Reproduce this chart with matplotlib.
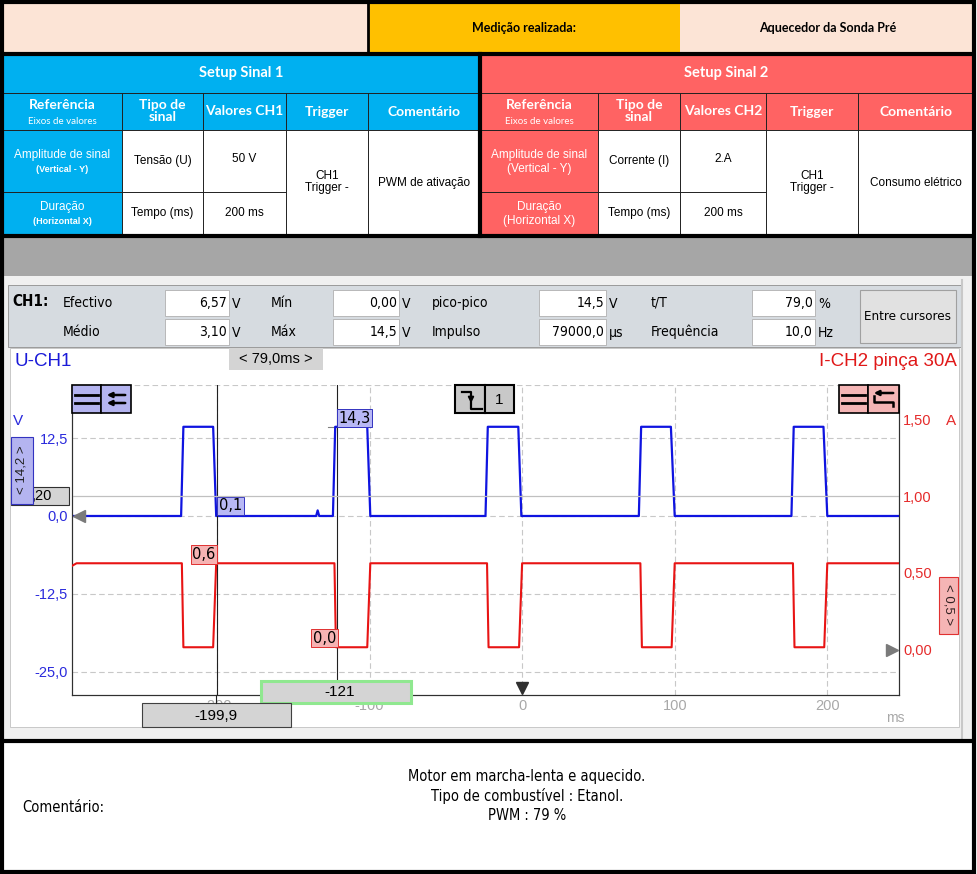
import numpy as np
import matplotlib.pyplot as plt
from matplotlib.patches import Rectangle
from matplotlib import font_manager

# ---- dados lidos no ecra do osciloscopio ----
# canal 1 : tensao (V)
t_ch1 = [-295, -223.5, -222, -202.5, -200.5, -135, -134, -133, -124, -122.5, -101.5, -99.5,
         -24, -22.5, -2.5, -0.5, 76.5, 78, 97.5, 100, 176.5, 178, 197.5, 200, 247]
u_ch1 = [0, 0, 14.3, 14.3, 0, 0, 0.9, 0, 0, 14.3, 14.3, 0,
         0, 14.3, 14.3, 0, 0, 14.3, 14.3, 0, 0, 14.3, 14.3, 0, 0]
# canal 2 : corrente (A)
t_ch2 = [-295, -292, -223, -222, -202.5, -200.5, -123, -122, -101.5, -99.5,
         -23, -22, -2, 0, 77.5, 78.5, 98, 100, 177.5, 178.5, 198, 200, 247]
i_ch2 = [0.545, 0.562, 0.562, 0.015, 0.015, 0.562, 0.562, 0.015, 0.015, 0.562,
         0.562, 0.015, 0.015, 0.562, 0.562, 0.015, 0.015, 0.562, 0.562, 0.015, 0.015, 0.562, 0.562]

cursores = [-199.9, -121]
leit_ch1 = ['0,1', '14,3']
leit_ch2 = ['0,6', '0,0']

xticks = [-200, -100, 0, 100, 200]
yticks_ch1 = [12.5, 0, -12.5, -25]
ylab_ch1 = ['12,5', '0,0', '-12,5', '-25,0']
yticks_ch2 = [1.5, 1.0, 0.5, 0.0]
ylab_ch2 = ['1,50', '1,00', '0,50', '0,00']

# medicoes CH1
med_nomes = [['Efectivo', 'Médio'], ['Mín', 'Máx'], ['pico-pico', 'Impulso'], ['t/T', 'Frequência']]
med_vals = [['6,57', '3,10'], ['0,00', '14,5'], ['14,5', '79000,0'], ['79,0', '10,0']]
med_unid = [['V', 'V'], ['V', 'V'], ['V', 'µs'], ['%', 'Hz']]

# tabelas de setup
sinal1 = ['Tensão (U)', '50 V', 'Tempo (ms)', '200 ms', 'CH1\nTrigger -', 'PWM de ativação']
sinal2 = ['Corrente (I)', '2.A', 'Tempo (ms)', '200 ms', 'CH1\nTrigger -', 'Consumo elétrico']
comentario = ['Motor em marcha-lenta e aquecido.', 'Tipo de combustível : Etanol.', 'PWM : 79 %']

AZUL = '#00B0F0'
VERM = '#FF6363'
PESS = '#FCE4D6'
OURO = '#FFC000'

# fonte estreita, se houver uma instalada
NARROW, STRETCH = 'Roboto', 'normal'
for f in font_manager.fontManager.ttflist:
    if 'Narrow' in f.name or 'Condensed' in f.name:
        NARROW = f.name
        break
    if f.name in ('DejaVu Sans', 'Liberation Sans') and f.stretch == 'condensed':
        NARROW, STRETCH = f.name, 'condensed'
        break
ARIAL = 'Liberation Sans'
CALIB = 'Lato'

W, H = 977, 874
fig = plt.figure(figsize=(9.77, 8.74), dpi=100)


def camada(z):
    a = fig.add_axes([0, 0, 1, 1], zorder=z)
    a.set_xlim(0, W)
    a.set_ylim(H, 0)
    a.axis('off')
    a.patch.set_alpha(0)
    return a


def caixa(a, x0, y0, x1, y1, fc, ec='none', lw=0, z=1):
    a.add_patch(Rectangle((x0, y0), x1 - x0, y1 - y0, facecolor=fc, edgecolor=ec, lw=lw, zorder=z))


def txt(a, x, y, s, size=9, ha='center', color='black', fam=ARIAL, weight='normal', z=3, **kw):
    a.text(x, y, s, fontsize=size, ha=ha, va='center', color=color, family=fam,
           weight=weight, zorder=z, **kw)


def narrow(a, x, y, s, size=10, ha='left', **kw):
    txt(a, x, y, s, size=size, ha=ha, fam=NARROW, fontstretch=STRETCH, **kw)


bg = camada(0)
fg = camada(10)

# ---- cabecalho ----
caixa(bg, 0, 0, W, H, 'white')
caixa(bg, 3, 3, 368, 54, PESS)
caixa(bg, 368, 3, 680, 54, OURO)
caixa(bg, 680, 3, 973, 54, PESS)
txt(bg, 524, 28, 'Medição realizada:', size=9, fam=CALIB, weight='bold')
txt(bg, 828, 28, 'Aquecedor da Sonda Pré', size=9, fam=CALIB, weight='bold')
bg.plot([368, 368], [3, 54], color='black', lw=2, zorder=4)

cols1 = [3, 122, 203, 286, 368, 480]
cols2 = [480, 598, 680, 766, 858, 973]
for cols, cor, tit, sin, ch in [(cols1, AZUL, 'Setup Sinal 1', sinal1, 'CH1'),
                                (cols2, VERM, 'Setup Sinal 2', sinal2, 'CH2')]:
    x0, x1 = cols[0], cols[-1]
    caixa(bg, x0, 54, x1, 130, cor)
    caixa(bg, x0, 130, cols[1], 236, cor)
    caixa(bg, cols[1], 130, x1, 236, 'white')
    txt(bg, (x0 + x1) / 2, 73, tit, size=10.5, color='white', fam=CALIB, weight='bold')
    cx = [(cols[i] + cols[i + 1]) / 2 for i in range(5)]
    txt(bg, cx[0], 105, 'Referência', size=10, color='white', fam=CALIB, weight='bold')
    txt(bg, cx[0], 121, 'Eixos de valores', size=7, color='white', fam=CALIB)
    txt(bg, cx[1], 111, 'Tipo de\nsinal', size=10, color='white', fam=CALIB, weight='bold',
        linespacing=1.0)
    txt(bg, cx[2], 111, 'Valores ' + ch, size=10, color='white', fam=CALIB, weight='bold')
    txt(bg, cx[3], 112, 'Trigger', size=10, color='white', fam=CALIB, weight='bold')
    txt(bg, cx[4], 112, 'Comentário', size=10, color='white', fam=CALIB, weight='bold')
    peq = 6.5 if ch == 'CH1' else 8.5
    txt(bg, cx[0], 155, 'Amplitude de sinal', size=8.5, color='white')
    txt(bg, cx[0], 169, '(Vertical - Y)', size=peq, color='white', weight='bold' if ch == 'CH1' else 'normal')
    txt(bg, cx[0], 207, 'Duração', size=8.5, color='white')
    txt(bg, cx[0], 221, '(Horizontal X)', size=peq, color='white', weight='bold' if ch == 'CH1' else 'normal')
    txt(bg, cx[1], 161, sin[0], size=8.5)
    txt(bg, cx[2], 159, sin[1], size=8.5)
    txt(bg, cx[1], 213, sin[2], size=8.5)
    txt(bg, cx[2], 213, sin[3], size=8.5)
    txt(bg, cx[3], 182, sin[4], size=8.5, linespacing=1.1)
    txt(bg, cx[4], 183, sin[5], size=8.5)
    # linhas finas
    bg.plot([x0, x1], [93, 93], color='#202020', lw=0.7, zorder=4)
    bg.plot([x0, x1], [130, 130], color='#202020', lw=0.7, zorder=4)
    bg.plot([x0, cols[3]], [192, 192], color='#202020', lw=0.7, zorder=4)
    for c in cols[1:-1]:
        bg.plot([c, c], [93, 236], color='#202020', lw=0.7, zorder=4)

# bordas grossas
bg.plot([3, 973], [54, 54], color='black', lw=3, zorder=5)
bg.plot([480, 480], [54, 236], color='black', lw=3, zorder=5)
bg.plot([3, 973], [236, 236], color='black', lw=3, zorder=5)
bg.plot([3, 973], [741, 741], color='black', lw=3, zorder=5)

# faixa cinzenta e painel do osciloscopio
caixa(bg, 3, 237, 973, 276, '#A6A6A6')
caixa(bg, 3, 276, 973, 740, '#F0F0F0')
caixa(bg, 8, 285, 961, 347, '#D6DBE0', ec='#9A9A9A', lw=0.7)
caixa(bg, 10, 348, 959, 727, 'white', ec='#C8C8C8', lw=0.7)
bg.plot([962, 962], [280, 738], color='#C8C8C8', lw=1.5, zorder=2)

# medicoes CH1
narrow(bg, 12, 302, 'CH1:', size=11, weight='bold')
lab_x = [63, 271, 432, 651]
box_x = [(165, 229), (333, 399), (539, 606), (752, 815)]
for k in range(4):
    for r, yc in enumerate([303, 332]):
        y0 = 290 if r == 0 else 319
        caixa(bg, box_x[k][0], y0, box_x[k][1], y0 + 26, 'white', ec='#B0B0B0', lw=0.6, z=2)
        narrow(bg, lab_x[k], yc, med_nomes[k][r], size=10)
        narrow(bg, box_x[k][1] - 2, yc, med_vals[k][r], size=10, ha='right')
        narrow(bg, box_x[k][1] + 3, yc + 1, med_unid[k][r], size=10)
caixa(bg, 860, 290, 956, 343, '#E1E1E1', ec='#A0A0A0', lw=0.8, z=2)
narrow(bg, 908, 317, 'Entre cursores', size=9.5, ha='center')

txt(bg, 14, 362, 'U-CH1', size=13.5, ha='left', color='#1A1AD8')
txt(bg, 957, 362, 'I-CH2 pinça 30A', size=13.5, ha='right', color='#E01818')
caixa(bg, 229, 348, 323, 370, '#D4D4D4', z=2)
txt(bg, 276, 359, '< 79,0ms >', size=10.5)

# comentario
narrow(bg, 22, 808, 'Comentário:', size=10.5)
for i, linha in enumerate(comentario):
    narrow(bg, 527, 777 + 19.5 * i, linha, size=10.5, ha='center')

# moldura exterior
bg.add_patch(Rectangle((1.5, 1.5), W - 4.5, H - 3.5, fill=False, edgecolor='black', lw=3, zorder=6))

# ---- grafico ----
ax = fig.add_axes([72 / W, 1 - 695 / H, (899 - 72) / W, (695 - 385) / H], zorder=5)
ax.set_xlim(-295, 247)
ax.set_ylim(-28.7, 21.0)
ax2 = ax.twinx()
ax2.set_zorder(6)
ax2.patch.set_visible(False)
ax2.set_ylim(-0.296, 1.723)

grade = dict(color='#C8C8C8', lw=0.8, ls=(0, (5, 3)), zorder=0)
for v in yticks_ch1:
    ax.axhline(v, **grade)
for x in xticks:
    ax.axvline(x, **grade)
ax.axhline(21.0, **grade)
ax2.axhline(1.0, color='#C0C0C0', lw=0.9, zorder=0)

ax.plot(t_ch1, u_ch1, color='#0F14E0', lw=1.6, zorder=3)
ax2.plot(t_ch2, i_ch2, color='#E81414', lw=1.5, zorder=3)

for c in cursores:
    ax.axvline(c, color='#202020', lw=0.8, zorder=4)
ax.plot([-127, -121], [14.3, 14.3], color='#808080', lw=0.8, zorder=2)

bx_azul = dict(boxstyle='square,pad=0.12', fc='#B8B8F5', ec='#3333C0', lw=0.7)
bx_verm = dict(boxstyle='square,pad=0.12', fc='#F6B3B3', ec='#E03030', lw=0.7)
ax.text(cursores[0] + 1, 0.4, leit_ch1[0], fontsize=10.5, ha='left', va='bottom', bbox=bx_azul, zorder=5)
ax.text(cursores[1] + 0.5, 14.5, leit_ch1[1], fontsize=10.5, ha='left', va='bottom', bbox=bx_azul, zorder=5)
ax2.text(cursores[0] - 1, 0.57, leit_ch2[0], fontsize=10.5, ha='right', va='bottom', bbox=bx_verm, zorder=5)
ax2.text(cursores[1] - 1, 0.025, leit_ch2[1], fontsize=10.5, ha='right', va='bottom', bbox=bx_verm, zorder=5)

ax.plot(-290.5, 0, marker='<', ms=9, color='#7A7A7A', clip_on=False, zorder=5)
ax2.plot(242.5, 0, marker='>', ms=9, color='#7A7A7A', clip_on=False, zorder=5)
ax.plot(0, -27.6, marker='v', ms=9, color='#303030', clip_on=False, zorder=5)

ax.set_xticks(xticks)
ax.set_xticklabels([str(x) for x in xticks], color='#A8A8A8', fontsize=10.5, family=ARIAL)
ax.set_yticks(yticks_ch1)
ax.set_yticklabels(ylab_ch1, color='#2A2ADC', fontsize=10.5, family=ARIAL)
ax2.set_yticks(yticks_ch2)
ax2.set_yticklabels(ylab_ch2, color='#E52B2B', fontsize=10.5, family=ARIAL)
ax.tick_params(length=0, pad=3)
ax2.tick_params(length=0, pad=3)
for a in (ax, ax2):
    a.spines['top'].set_visible(False)
    for s in ('left', 'right', 'bottom'):
        a.spines[s].set_color('#303030')
        a.spines[s].set_linewidth(0.8)

txt(bg, 18, 421, 'V', size=11, color='#2A2ADC')
txt(bg, 951, 421, 'A', size=11, color='#E52B2B')
txt(bg, 886, 718, 'ms', size=10, color='#A8A8A8', ha='left')

# ---- elementos sobrepostos ----
# icones canal 1
caixa(fg, 72, 385, 101, 413, '#B4B4F0', ec='black', lw=1.2)
caixa(fg, 101, 385, 131, 413, '#B4B4F0', ec='black', lw=1.2)
for yy in (395, 403):
    fg.plot([75, 98], [yy, yy], color='black', lw=2, zorder=3)
    fg.annotate('', xy=(104, yy), xytext=(128, yy),
                arrowprops=dict(arrowstyle='-|>', color='black', lw=1.8, mutation_scale=7), zorder=3)
# icones canal 2
caixa(fg, 839, 385, 868, 413, '#F5B5B5', ec='black', lw=1.2)
caixa(fg, 868, 385, 899, 413, '#F5B5B5', ec='black', lw=1.2)
for yy in (395, 403):
    fg.plot([842, 865], [yy, yy], color='black', lw=2, zorder=3)
fg.annotate('', xy=(871, 393), xytext=(896, 393),
            arrowprops=dict(arrowstyle='-|>', color='black', lw=1.8, mutation_scale=7), zorder=3)
fg.plot([874, 874, 893, 893], [396, 402, 402, 406], color='black', lw=1.8, zorder=3)
# trigger
caixa(fg, 455, 385, 485, 413, '#C8C8C8', ec='black', lw=1.5)
caixa(fg, 485, 385, 514, 413, '#C8C8C8', ec='black', lw=1.5)
fg.plot([462, 471, 471, 482], [392, 392, 409, 409], color='black', lw=1.6, zorder=3)
fg.annotate('', xy=(471, 406), xytext=(471, 396),
            arrowprops=dict(arrowstyle='-|>', color='black', lw=1.4, mutation_scale=8), zorder=3)
txt(fg, 499, 400, '1', size=11)

# escalas verticais
caixa(fg, 11, 487, 69, 505, '#D4D4D4', ec='#303030', lw=0.8)
txt(fg, 32, 496, ',20', size=10.5, ha='left')
caixa(fg, 11, 437, 33, 504, '#B4B4F0', ec='#3333C0', lw=0.8, z=4)
txt(fg, 22, 470, '< 14,2 >', size=9.5, rotation=90, color='#202020', z=5)
caixa(fg, 939, 577, 958, 634, '#F5B5B5', ec='#E03030', lw=0.8, z=4)
txt(fg, 948.5, 605, '< 0,5 >', size=9.5, rotation=-90, color='#302020', z=5)

# caixas dos cursores
fg.plot([216, 216], [695, 703], color='#202020', lw=0.8)
caixa(fg, 261, 681, 411, 703, '#D4D4D4', ec='#90E890', lw=2.2)
txt(fg, 340, 692, '-121', size=11)
caixa(fg, 142, 703, 291, 727, '#D4D4D4', ec='#404040', lw=0.8)
txt(fg, 216, 716, '-199,9', size=11)

fig.savefig('out.png', dpi=100)
